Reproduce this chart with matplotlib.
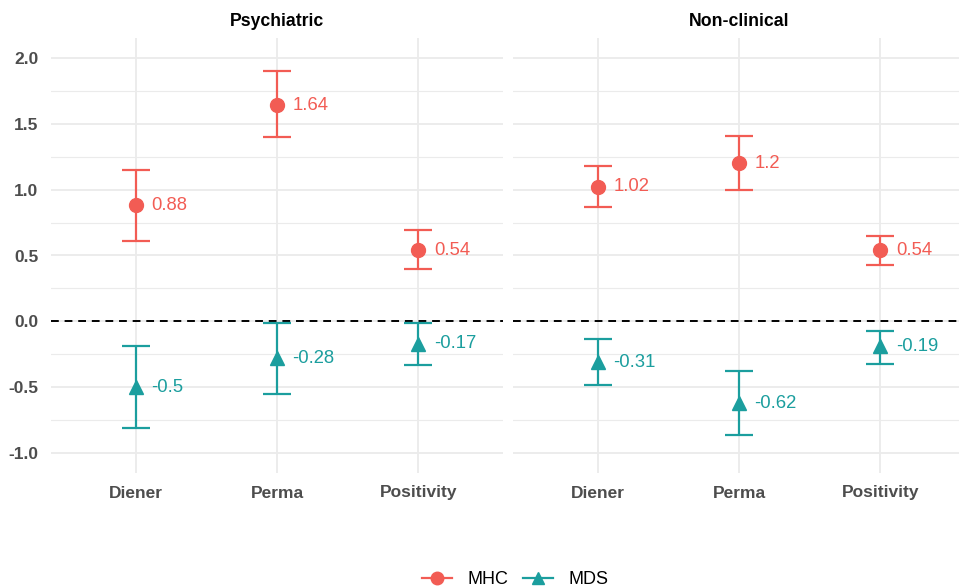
import matplotlib
matplotlib.use("Agg")
import matplotlib.pyplot as plt
from matplotlib.lines import Line2D
import numpy as np

plt.rcParams['font.family'] = ['Liberation Sans', 'DejaVu Sans']

# effect sizes with confidence limits, per sample
groups = ["Psychiatric", "Non-clinical"]
measures = ["Diener", "Perma", "Positivity"]

mhc_est = {"Psychiatric": [0.88, 1.64, 0.54], "Non-clinical": [1.02, 1.2, 0.54]}
mhc_lo = {"Psychiatric": [0.61, 1.40, 0.40], "Non-clinical": [0.87, 1.00, 0.43]}
mhc_hi = {"Psychiatric": [1.15, 1.90, 0.69], "Non-clinical": [1.18, 1.41, 0.65]}

mds_est = {"Psychiatric": [-0.5, -0.28, -0.17], "Non-clinical": [-0.31, -0.62, -0.19]}
mds_lo = {"Psychiatric": [-0.81, -0.55, -0.33], "Non-clinical": [-0.48, -0.86, -0.32]}
mds_hi = {"Psychiatric": [-0.19, -0.01, -0.01], "Non-clinical": [-0.13, -0.38, -0.07]}

red = "#F25C54"
teal = "#1B9E9E"
grid = "#EBEBEB"

W, H = 959, 587
fig = plt.figure(figsize=(W / 100, H / 100), dpi=100)

panel_left = [51, 513]
panel_w = 452
top, bottom = 38, 473

x = np.arange(len(measures))
series = [
    ("MHC", mhc_est, mhc_lo, mhc_hi, red, "o"),
    ("MDS", mds_est, mds_lo, mds_hi, teal, "^"),
]

for i, g in enumerate(groups):
    ax = fig.add_axes([panel_left[i] / W, 1 - bottom / H,
                       panel_w / W, (bottom - top) / H])
    ax.set_xlim(-0.6, 2.6)
    ax.set_ylim(-1.15, 2.15)

    # background grid (major + minor)
    for v in np.arange(-1.0, 2.01, 0.5):
        ax.axhline(v, color=grid, lw=1.3, zorder=0)
    for v in np.arange(-0.75, 2.0, 0.5):
        ax.axhline(v, color=grid, lw=0.8, zorder=0)
    for xi in x:
        ax.axvline(xi, color=grid, lw=1.3, zorder=0)

    ax.axhline(0, color="black", lw=1.4, ls=(0, (4, 3)), zorder=1)

    for name, est, lo, hi, col, mk in series:
        e = np.array(est[g])
        l = np.array(lo[g])
        h = np.array(hi[g])
        ax.errorbar(x, e, yerr=[e - l, h - e], fmt="none", ecolor=col,
                    elinewidth=1.6, capsize=10, capthick=1.6, zorder=2)
        ax.plot(x, e, ls="none", marker=mk, ms=10, color=col, zorder=3)
        for xi, v in zip(x, e):
            ax.text(xi + 0.11, v, f"{v:g}", color=col, fontsize=13.3,
                    ha="left", va="center", zorder=4)

    ax.set_xticks(x)
    ax.set_xticklabels(measures, fontsize=12.5, fontweight="bold", color="#4D4D4D")
    ax.set_yticks(np.arange(-1.0, 2.01, 0.5))
    if i == 0:
        ax.set_yticklabels([f"{v:.1f}" for v in np.arange(-1.0, 2.01, 0.5)],
                           fontsize=12.5, fontweight="bold", color="#4D4D4D")
    else:
        ax.set_yticklabels([])
    ax.tick_params(length=0, pad=9)
    for s in ax.spines.values():
        s.set_visible(False)
    ax.set_title(g, fontsize=12.7, fontweight="bold", pad=9)

handles = [
    Line2D([], [], color=red, marker="o", lw=1.6, ms=9),
    Line2D([], [], color=teal, marker="^", lw=1.6, ms=9),
]
fig.legend(handles, ["MHC", "MDS"], loc="center", bbox_to_anchor=(515 / W, 1 - 580 / H),
           ncol=2, frameon=False, fontsize=13, handlelength=1.67, columnspacing=0.83,
           handletextpad=0.83)

fig.savefig("out.png", dpi=100, facecolor="white")
